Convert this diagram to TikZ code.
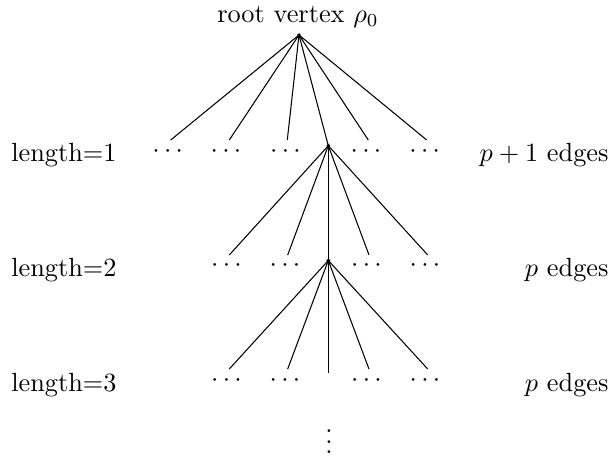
\documentclass[tikz,border=0pt]{standalone}
\begin{document}
\begin{tikzpicture}[x=0.3802pt,y=-0.3802pt,
  lbl/.style={inner sep=0pt},
  dts/.style={inner sep=0pt,anchor=base},
  edge/.style={line width=0.4pt},
  vtx/.style={fill=black}]
\useasboundingbox (0,0) rectangle (611,460);
% root
\node[lbl,anchor=base] (rt) at (298,22.7) {root vertex $\rho_0$};
\coordinate (r0) at (299,35);
\coordinate (v1) at (328.3,145.7);
\coordinate (v2) at (328.3,260.5);
% level labels
\node[lbl,anchor=base west] (L1) at (10.8,161.7) {length=1};
\node[lbl,anchor=base west] (L2) at (10.8,276.7) {length=2};
\node[lbl,anchor=base west] (L3) at (10.8,391.7) {length=3};
\node[lbl,anchor=base east] (E1) at (609,161.7) {$p+1$ edges};
\node[lbl,anchor=base east] (E2) at (609,276.7) {$p$ edges};
\node[lbl,anchor=base east] (E3) at (609,391.7) {$p$ edges};
% dots level 1
\node[dts] (d11) at (167.7,157.6) {$\cdots$};
\node[dts] (d12) at (226,157.6) {$\cdots$};
\node[dts] (d13) at (285.5,157.6) {$\cdots$};
\node[dts] (d14) at (366,157.6) {$\cdots$};
\node[dts] (d15) at (424.7,157.6) {$\cdots$};
% dots level 2
\node[dts] (d21) at (226.5,271.9) {$\cdots$};
\node[dts] (d22) at (285,271.9) {$\cdots$};
\node[dts] (d23) at (366.5,271.9) {$\cdots$};
\node[dts] (d24) at (425,271.9) {$\cdots$};
% dots level 3
\node[dts] (d31) at (226.5,386.6) {$\cdots$};
\node[dts] (d32) at (285,386.6) {$\cdots$};
\node[dts] (d33) at (366.5,386.6) {$\cdots$};
\node[dts] (d34) at (425,386.6) {$\cdots$};
\node[dts] (vd) at (329,453.7) {$\vdots$};
% line ends
\coordinate (c11) at (170.7,140);
\coordinate (c12) at (229.3,140);
\coordinate (c13) at (287.3,140);
\coordinate (c14) at (368.3,140);
\coordinate (c15) at (426.7,140);
\coordinate (c21) at (229.3,255);
\coordinate (c22) at (287.7,255);
\coordinate (c23) at (369,255);
\coordinate (c24) at (427.7,255);
\coordinate (c31) at (229.3,369);
\coordinate (c32) at (287.7,369);
\coordinate (c33) at (328.3,372.7);
\coordinate (c34) at (369,369);
\coordinate (c35) at (427.7,369);
% edges
\foreach \c in {c11,c12,c13,v1,c14,c15} \draw[edge] (r0) -- (\c);
\foreach \c in {c21,c22,v2,c23,c24} \draw[edge] (v1) -- (\c);
\foreach \c in {c31,c32,c33,c34,c35} \draw[edge] (v2) -- (\c);
% vertices
\fill[vtx] (r0) circle (0.75pt);
\fill[vtx] (v1) circle (0.75pt);
\fill[vtx] (v2) circle (0.75pt);
\end{tikzpicture}
\end{document}
